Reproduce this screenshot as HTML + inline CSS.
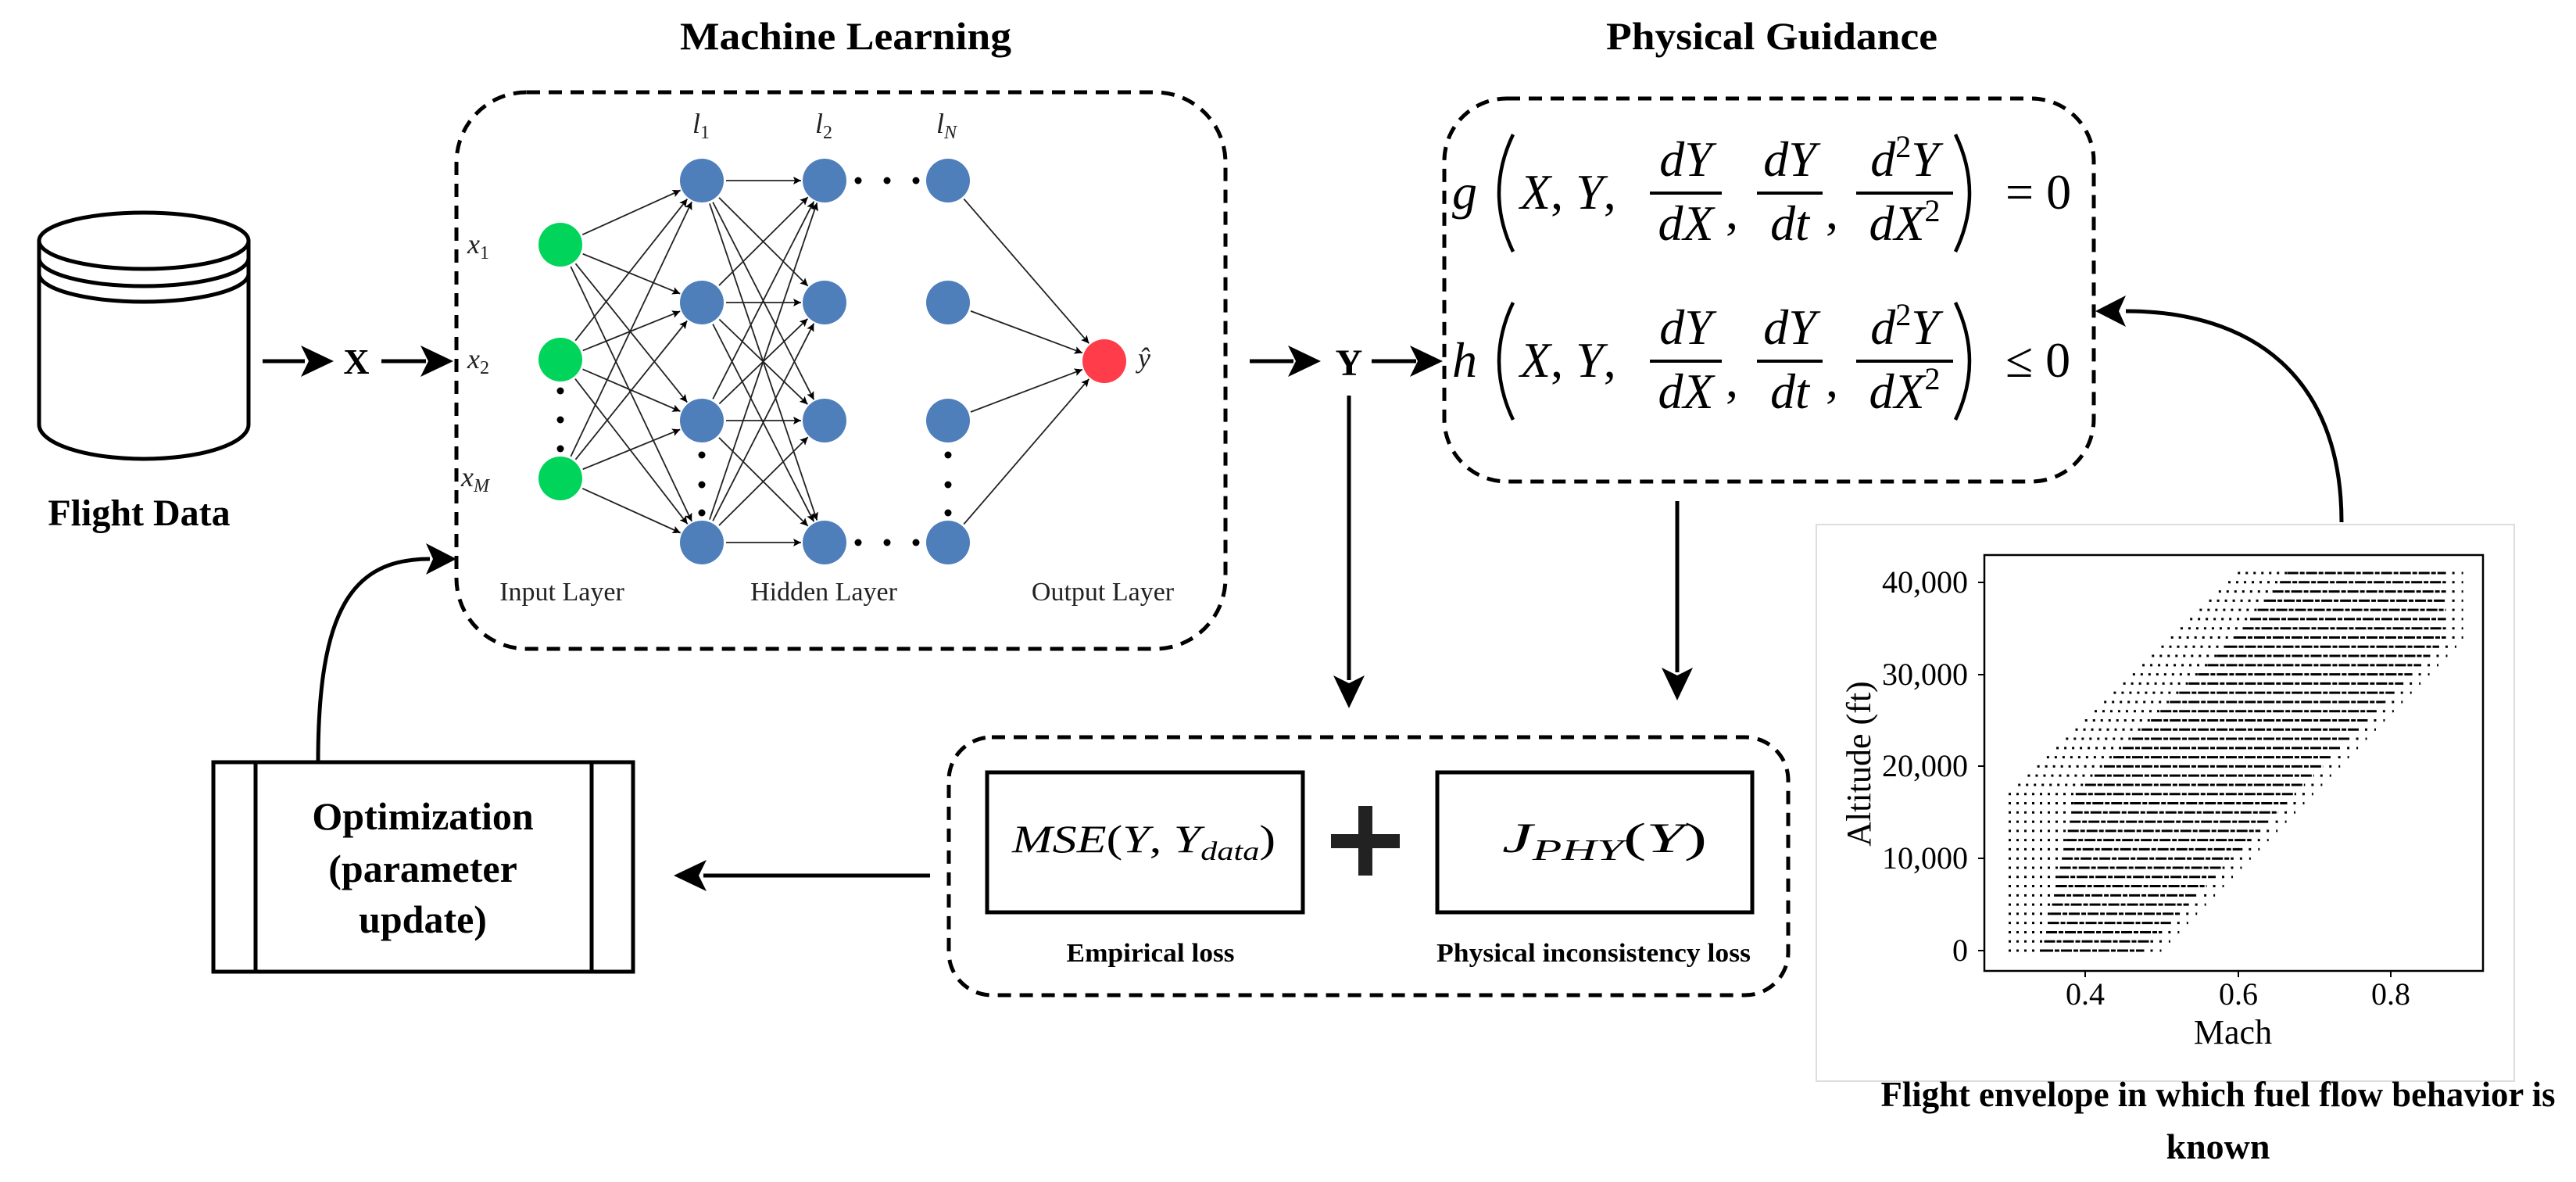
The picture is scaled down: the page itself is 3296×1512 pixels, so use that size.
<!DOCTYPE html>
<html><head><meta charset="utf-8">
<style>
html,body{margin:0;padding:0;background:#fff;}
svg{display:block;}
</style></head>
<body>
<svg id="s" width="3296" height="1512" viewBox="0 0 3296 1512" xmlns="http://www.w3.org/2000/svg" font-family="Liberation Serif, serif">
<defs>
<marker id="sm" viewBox="0 0 10 10" refX="10" refY="5" markerWidth="10" markerHeight="10" markerUnits="userSpaceOnUse" orient="auto">
<path d="M0,0 L10,5 L0,10 L2,5 z" fill="#000"/></marker>
</defs>
<rect width="3296" height="1512" fill="#fff"/>

<g fill="none" stroke="#000" stroke-width="5">
<path d="M50,308 L50,543 A134,44 0 0 0 318,543 L318,308"/>
<ellipse cx="184" cy="308" rx="134" ry="36"/>
<path d="M50,330 A134,36 0 0 0 318,330"/>
<path d="M50,350 A134,36 0 0 0 318,350"/>
</g>
<text x="178" y="672" font-size="48" font-weight="bold" text-anchor="middle">Flight Data</text>

<text x="1082" y="63" font-size="50" font-weight="bold" text-anchor="middle" textLength="424" lengthAdjust="spacingAndGlyphs">Machine Learning</text>
<text x="2267" y="63" font-size="50" font-weight="bold" text-anchor="middle" textLength="424" lengthAdjust="spacingAndGlyphs">Physical Guidance</text>

<g fill="none" stroke="#000" stroke-width="5" stroke-dasharray="17 11">
<rect x="584" y="118" width="984" height="712" rx="90" ry="90"/>
<rect x="1848" y="126" width="831" height="490" rx="80" ry="80"/>
<rect x="1214" y="943" width="1074" height="330" rx="55" ry="55"/>
</g>

<g stroke="#000" stroke-width="5" fill="none">
<line x1="336" y1="462" x2="390" y2="462"/>
<line x1="488" y1="462" x2="545" y2="462"/>
<line x1="1599" y1="462" x2="1655" y2="462"/>
<line x1="1755" y1="462" x2="1812" y2="462"/>
<line x1="1726" y1="506" x2="1726" y2="870"/>
<line x1="2146" y1="641" x2="2146" y2="860"/>
<line x1="1190" y1="1120" x2="900" y2="1120"/>
<path d="M407,975 C407,780 450,715 550,715"/>
<path d="M2996,668 C2996,480 2880,398 2720,398"/>
</g>
<g fill="#000">
<path d="M427,462 L385,442 L395,462 L385,482 z"/>
<path d="M580,462 L538,442 L548,462 L538,482 z"/>
<path d="M1690,462 L1648,442 L1658,462 L1648,482 z"/>
<path d="M1846,462 L1804,442 L1814,462 L1804,482 z"/>
<path d="M1726,906 L1706,864 L1726,874 L1746,864 z"/>
<path d="M2146,896 L2126,854 L2146,864 L2166,854 z"/>
<path d="M862,1120 L904,1100 L894,1120 L904,1140 z"/>
<path d="M584,715 L545,695 L554,715 L545,735 z"/>
<path d="M2681,398 L2720,378 L2711,398 L2720,418 z"/>
</g>
<text x="456" y="478" font-size="46" font-weight="bold" text-anchor="middle">X</text>
<text x="1726" y="480" font-size="48" font-weight="bold" text-anchor="middle">Y</text>

<g id="net" stroke="#222" stroke-width="1.8" fill="none"></g>
<g id="nodes"></g>
<g font-style="italic" font-size="36" fill="#222">
<text x="598" y="324">x<tspan font-size="24" font-style="normal" dy="7">1</tspan></text>
<text x="598" y="471">x<tspan font-size="24" font-style="normal" dy="7">2</tspan></text>
<text x="590" y="622">x<tspan font-size="24" dy="7">M</tspan></text>
<text x="886" y="170">l<tspan font-size="24" font-style="normal" dy="7">1</tspan></text>
<text x="1043" y="170">l<tspan font-size="24" font-style="normal" dy="7">2</tspan></text>
<text x="1198" y="170">l<tspan font-size="24" dy="7">N</tspan></text>
<text x="1456" y="470">ŷ</text>
</g>
<g font-size="34" fill="#222" text-anchor="middle">
<text x="719" y="768">Input Layer</text>
<text x="1054" y="768">Hidden Layer</text>
<text x="1411" y="768">Output Layer</text>
</g>

<g id="eq" font-style="italic" font-size="64" fill="#000"></g>

<g fill="none" stroke="#000" stroke-width="5">
<rect x="1263" y="988" width="404" height="179"/>
<rect x="1839" y="988" width="403" height="179"/>
</g>
<rect x="1703" y="1067" width="88" height="18" fill="#222"/>
<rect x="1738" y="1031" width="18" height="89" fill="#222"/>
<text x="1295" y="1090" font-size="50" font-style="italic" textLength="337" lengthAdjust="spacingAndGlyphs">MSE<tspan font-style="normal">(</tspan>Y<tspan font-style="normal">, </tspan>Y<tspan font-size="34" dy="10">data</tspan><tspan font-style="normal" dy="-10">)</tspan></text>
<text x="1922" y="1090" font-size="54" font-style="italic" textLength="262" lengthAdjust="spacingAndGlyphs">J<tspan font-size="38" dy="10">PHY</tspan><tspan font-style="normal" dy="-10">(</tspan>Y<tspan font-style="normal">)</tspan></text>
<text x="1472" y="1230" font-size="34" font-weight="bold" text-anchor="middle" textLength="215" lengthAdjust="spacingAndGlyphs">Empirical loss</text>
<text x="2039" y="1230" font-size="34" font-weight="bold" text-anchor="middle" textLength="402" lengthAdjust="spacingAndGlyphs">Physical inconsistency loss</text>

<g fill="none" stroke="#000" stroke-width="5">
<rect x="273" y="975" width="537" height="268"/>
<line x1="327" y1="975" x2="327" y2="1243"/>
<line x1="757" y1="975" x2="757" y2="1243"/>
</g>
<g font-size="50" font-weight="bold" text-anchor="middle">
<text x="541" y="1061">Optimization</text>
<text x="541" y="1128">(parameter</text>
<text x="541" y="1193">update)</text>
</g>

<rect x="2324" y="671" width="893" height="712" fill="#fff" stroke="#ddd" stroke-width="2"/>
<rect x="2539" y="710" width="638" height="532" fill="none" stroke="#000" stroke-width="2.5"/>
<g id="rows"></g>
<g font-size="40" text-anchor="end">
<text x="2518" y="1229">0</text>
<text x="2518" y="1111">10,000</text>
<text x="2518" y="993">20,000</text>
<text x="2518" y="876">30,000</text>
<text x="2518" y="758">40,000</text>
</g>
<g stroke="#000" stroke-width="2">
<line x1="2531" y1="1216" x2="2539" y2="1216"/><line x1="2531" y1="1098" x2="2539" y2="1098"/>
<line x1="2531" y1="980" x2="2539" y2="980"/><line x1="2531" y1="863" x2="2539" y2="863"/>
<line x1="2531" y1="745" x2="2539" y2="745"/>
<line x1="2668" y1="1242" x2="2668" y2="1250"/><line x1="2864" y1="1242" x2="2864" y2="1250"/><line x1="3059" y1="1242" x2="3059" y2="1250"/>
</g>
<g font-size="40" text-anchor="middle">
<text x="2668" y="1285">0.4</text>
<text x="2864" y="1285">0.6</text>
<text x="3059" y="1285">0.8</text>
<text x="2857" y="1335" font-size="44">Mach</text>
<text transform="translate(2393,977) rotate(-90)" font-size="44">Altitude (ft)</text>
</g>
<g font-size="46" font-weight="bold" text-anchor="middle">
<text x="2838" y="1415" textLength="863" lengthAdjust="spacingAndGlyphs">Flight envelope in which fuel flow behavior is</text>
<text x="2838" y="1482">known</text>
</g>
</svg>
<script>
var NS="http://www.w3.org/2000/svg";
function el(p,t,a,txt){var e=document.createElementNS(NS,t);for(var k in a)e.setAttribute(k,a[k]);if(txt!==undefined)e.textContent=txt;p.appendChild(e);return e;}
var net=document.getElementById('net'),nodes=document.getElementById('nodes');
var R=28;
var inp=[[717,313],[717,460],[717,612]];
var hx=[898,1055,1213],hy=[231,387,538,694];
var out=[1413,462];
function edge(a,b){var dx=b[0]-a[0],dy=b[1]-a[1],d=Math.sqrt(dx*dx+dy*dy),ux=dx/d,uy=dy/d;
el(net,'line',{x1:a[0]+ux*(R+3),y1:a[1]+uy*(R+3),x2:b[0]-ux*(R+2),y2:b[1]-uy*(R+2),'marker-end':'url(#sm)'});}
inp.forEach(function(a){hy.forEach(function(y){edge(a,[hx[0],y]);});});
hy.forEach(function(y1){hy.forEach(function(y2){edge([hx[0],y1],[hx[1],y2]);});});
hy.forEach(function(y){edge([hx[2],y],out);});
inp.forEach(function(a){el(nodes,'circle',{cx:a[0],cy:a[1],r:R,fill:'#00d45a'});});
hx.forEach(function(x){hy.forEach(function(y){el(nodes,'circle',{cx:x,cy:y,r:R,fill:'#4f7fbb'});});});
el(nodes,'circle',{cx:out[0],cy:out[1],r:R,fill:'#ff3c4a'});
function dot(x,y){el(nodes,'circle',{cx:x,cy:y,r:4.5,fill:'#000'});}
[500,537,574].forEach(function(y){dot(717,y);});
[582,620,656].forEach(function(y){dot(898,y);});
[582,620,656].forEach(function(y){dot(1213,y);});
[1098,1135,1172].forEach(function(x){dot(x,231);dot(x,694);});
var eq=document.getElementById('eq');
function paren(x,cy,left){var h=75,w=18;var d=left?('M'+(x+w)+','+(cy-h)+' Q'+(x-w)+','+cy+' '+(x+w)+','+(cy+h)):('M'+(x-w)+','+(cy-h)+' Q'+(x+w)+','+cy+' '+(x-w)+','+(cy+h));
el(eq,'path',{d:d,fill:'none',stroke:'#000','stroke-width':4.5});}
function frac(cx,ly,num,den,w){
el(eq,'line',{x1:cx-w/2,y1:ly,x2:cx+w/2,y2:ly,stroke:'#000','stroke-width':4});
var t=el(eq,'text',{x:cx,y:ly-22,'text-anchor':'middle'});t.innerHTML=num;
var t2=el(eq,'text',{x:cx,y:ly+60,'text-anchor':'middle'});t2.innerHTML=den;}
function eqn(ly,f,rel){
el(eq,'text',{x:1858,y:ly+20},f);
paren(1918,ly,true);
var t=el(eq,'text',{x:1945,y:ly+20});t.innerHTML='X<tspan font-style="normal">, </tspan>Y<tspan font-style="normal">,</tspan>';
frac(2157,ly,'dY','dX',92);
el(eq,'text',{x:2208,y:ly+45,'font-style':'normal'},',');
frac(2290,ly,'dY','dt',84);
el(eq,'text',{x:2336,y:ly+45,'font-style':'normal'},',');
frac(2437,ly,'d<tspan font-size="40" font-style="normal" dy="-24">2</tspan><tspan dy="24">Y</tspan>','dX<tspan font-size="40" font-style="normal" dy="-24">2</tspan>',124);
paren(2520,ly,false);
el(eq,'text',{x:2566,y:ly+20,'font-style':'normal'},rel+' 0');}
eqn(247,'g','=');
eqn(462,'h','\u2264');
var rows=document.getElementById('rows');
function mx(m){return 2570+(m-0.3)*977.5;}
for(var a=0;a<=41;a++){
 var y=1216-a*11.78;
 var l=a<=17?0.3:0.3+(a-17)*0.0125;
 var r=Math.min(0.5+a*0.0117,0.895);
 var x1=mx(l),x2=mx(r),mid=x1+(x2-x1)*0.22;
 el(rows,'line',{x1:x1,y1:y,x2:mid,y2:y,stroke:'#000','stroke-width':3,'stroke-dasharray':'3 7'});
 el(rows,'line',{x1:mid,y1:y,x2:x2-22,y2:y,stroke:'#000','stroke-width':3,'stroke-dasharray':'14 2 6 2'});
 el(rows,'line',{x1:x2-14,y1:y,x2:x2,y2:y,stroke:'#000','stroke-width':3,'stroke-dasharray':'3 9'});
}
</script>
</body></html>
